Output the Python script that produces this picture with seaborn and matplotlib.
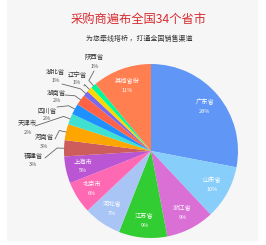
import matplotlib
matplotlib.use("Agg")
import matplotlib.pyplot as plt
import seaborn as sns
import numpy as np
from matplotlib.patches import Rectangle

sns.set_style("white")
plt.rcParams['font.family'] = ['Noto Sans CJK SC', 'DejaVu Sans']

# ---- data ----
provinces = ['广东省', '山东省', '浙江省', '江苏省', '河北省', '北京市', '上海市', '福建省',
             '河南省', '天津市', '四川省', '湖南省', '湖北省', '辽宁省', '陕西省', '其他省份']
shares = [28, 10, 9, 9, 7, 6, 5, 3, 3, 2, 2, 2, 1, 1, 1, 11]
colors = ['#6097f6', '#87cefa', '#da70d6', '#32cd32', '#a9c5f6', '#ff69b4', '#ba55d3', '#cd5c5c',
          '#ffa500', '#40e0d0', '#1e90ff', '#ff6347', '#7b68ee', '#ffd700', '#00fa9a', '#ff7f50']
outside = ['福建省', '河南省', '天津市', '四川省', '湖南省', '湖北省', '辽宁省', '陕西省']
title = '采购商遍布全国34个省市'
subtitle = '为您牵线搭桥 ，打通全国销售渠道'

# ---- layout (pixels) ----
W, H = 266, 245
CX, CY, R = 151, 151, 87
# name center, pct center, line end
out_layout = {
    '陕西省': ((94, 57), (95, 66), (94, 71)),
    '辽宁省': ((77, 75), (77, 83), (84, 86)),
    '湖北省': ((55, 72), (56, 80), (62, 84)),
    '湖南省': ((56, 93), (57, 101), (65, 95)),
    '四川省': ((47, 111), (47, 119), (57, 107)),
    '天津市': ((27, 123), (28, 132), (35, 126)),
    '河南省': ((44, 137), (44, 146), (55, 139)),
    '福建省': ((33, 156), (33, 165), (45, 158)),
}

fig = plt.figure(figsize=(W / 100, H / 100), dpi=100)
fig.patch.set_facecolor('white')
fig.patches.append(Rectangle((7 / W, (H - 241) / H), (258 - 7) / W, 241 / H,
                             transform=fig.transFigure, facecolor='#f6f6f6',
                             edgecolor='none', zorder=-10))

ax = fig.add_axes([(CX - R) / W, (H - CY - R) / H, 2 * R / W, 2 * R / H])
wedges, _ = ax.pie(shares, colors=colors, startangle=90, counterclock=False,
                   radius=1.0, wedgeprops=dict(linewidth=0))
ax.set_xlim(-1, 1)
ax.set_ylim(-1, 1)
ax.set_aspect('equal')
ax.axis('off')
ax.patch.set_alpha(0)


def px2d(px, py):
    return (px - CX) / R, (CY - py) / R


for w, name, val in zip(wedges, provinces, shares):
    mid = np.deg2rad((w.theta1 + w.theta2) / 2)
    if name in outside:
        (nx, ny), (qx, qy), (lx, ly) = out_layout[name]
        ex, ey = 1.0 * np.cos(mid), 1.0 * np.sin(mid)
        mx, my = 1.08 * np.cos(mid), 1.08 * np.sin(mid)
        lxd, lyd = px2d(lx, ly)
        ax.plot([ex, mx, lxd], [ey, my, lyd], color='#666666', lw=0.6, clip_on=False)
        x, y = px2d(nx, ny)
        ax.text(x, y, name, ha='center', va='center', fontsize=4.6, color='#333333', clip_on=False)
        x, y = px2d(qx, qy)
        ax.text(x, y, f'{val}%', ha='center', va='center', fontsize=4.1, color='#555555', clip_on=False)
    else:
        r = 0.8
        x, y = r * np.cos(mid), r * np.sin(mid)
        ax.text(x, y + 0.05, name, ha='center', va='center', fontsize=4.5, color='white')
        ax.text(x, y - 0.055, f'{val}%', ha='center', va='center', fontsize=4.0, color='white')

fig.text(139 / W, 1 - 20.5 / H, title, ha='center', va='center', fontsize=8.8, color='#d62b2f')
fig.text(139 / W, 1 - 39 / H, subtitle, ha='center', va='center', fontsize=5.0, color='#333333')

fig.savefig('out.png', dpi=100, facecolor='white')
